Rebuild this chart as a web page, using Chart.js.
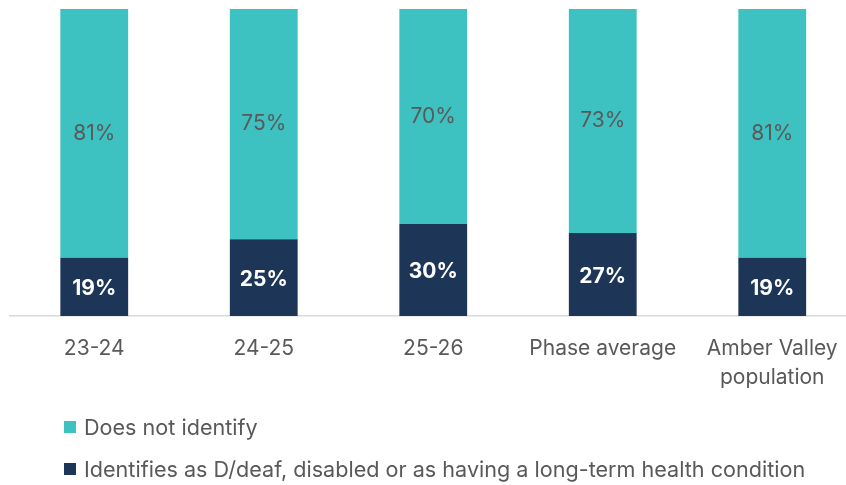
<!DOCTYPE html>
<html>
<head>
<meta charset="utf-8">
<script src="https://cdn.jsdelivr.net/npm/chart.js@4"></script>
<style>
    html, body { margin: 0; padding: 0; background: #fff; overflow: hidden; width: 846px; height: 485px; }
    #wrap { position: relative; width: 860px; height: 485px; }
    .legend { position: absolute; left: 64px; font-family: "Inter", "Open Sans", sans-serif; font-size: 21.6px; color: #595959; display: flex; align-items: center; white-space: nowrap; }
    .legend span.box { display: inline-block; width: 12px; height: 12px; margin-right: 8px; }
</style>
</head>
<body>
<div id="wrap">
    <canvas id="chart" width="860" height="485"></canvas>
    <div class="legend" style="top:414px"><span class="box" style="background:#3dc1c1"></span>Does not identify</div>
    <div class="legend" style="top:456px"><span class="box" style="background:#1d3557"></span>Identifies as D/deaf, disabled or as having a long-term health condition</div>
</div>
<script>
const categories = ["23-24", "24-25", "25-26", "Phase average", ["Amber Valley", "population"]];
const identifies = [19, 25, 30, 27, 19];
const doesNotIdentify = [81, 75, 70, 73, 81];

const tealColor = "#3dc1c1";
const navyColor = "#1d3557";
const fontFamily = "Inter, 'Open Sans', sans-serif";

// draws the % labels in the middle of each bar segment
const segmentLabels = {
    id: "segmentLabels",
    afterDatasetsDraw(chart) {
        const ctx = chart.ctx;
        ctx.save();
        ctx.textAlign = "center";
        ctx.textBaseline = "middle";
        chart.data.datasets.forEach((ds, i) => {
            const meta = chart.getDatasetMeta(i);
            meta.data.forEach((bar, j) => {
                let mid = (bar.y + bar.base) / 2;
                if (i === 0) {
                    ctx.fillStyle = "#ffffff";
                    ctx.font = "bold 21px " + fontFamily;
                    mid += 2;
                } else {
                    ctx.fillStyle = "#595959";
                    ctx.font = "21px " + fontFamily;
                }
                ctx.fillText(ds.data[j] + "%", bar.x, mid);
            });
        });
        ctx.restore();
    }
};

new Chart(document.getElementById("chart").getContext("2d"), {
    type: "bar",
    data: {
        labels: categories,
        datasets: [
            { label: "Identifies as D/deaf, disabled or as having a long-term health condition", data: identifies, backgroundColor: navyColor },
            { label: "Does not identify", data: doesNotIdentify, backgroundColor: tealColor }
        ]
    },
    options: {
        responsive: false,
        animation: false,
        layout: { padding: { left: 9.5, right: 3, top: 9, bottom: 79 } },
        datasets: { bar: { categoryPercentage: 1, barPercentage: 0.4 } },
        scales: {
            x: {
                stacked: true,
                grid: { display: false },
                border: { color: "#d9d9d9", width: 1.5 },
                ticks: { color: "#595959", font: { family: fontFamily, size: 21, lineHeight: 1.35 }, padding: 11, maxRotation: 0 },
                afterFit(scale) { scale.height = 90; }
            },
            y: {
                stacked: true,
                display: false,
                min: 0,
                max: 100
            }
        },
        plugins: {
            legend: { display: false },
            tooltip: { enabled: false }
        }
    },
    plugins: [segmentLabels]
});
</script>
</body>
</html>
